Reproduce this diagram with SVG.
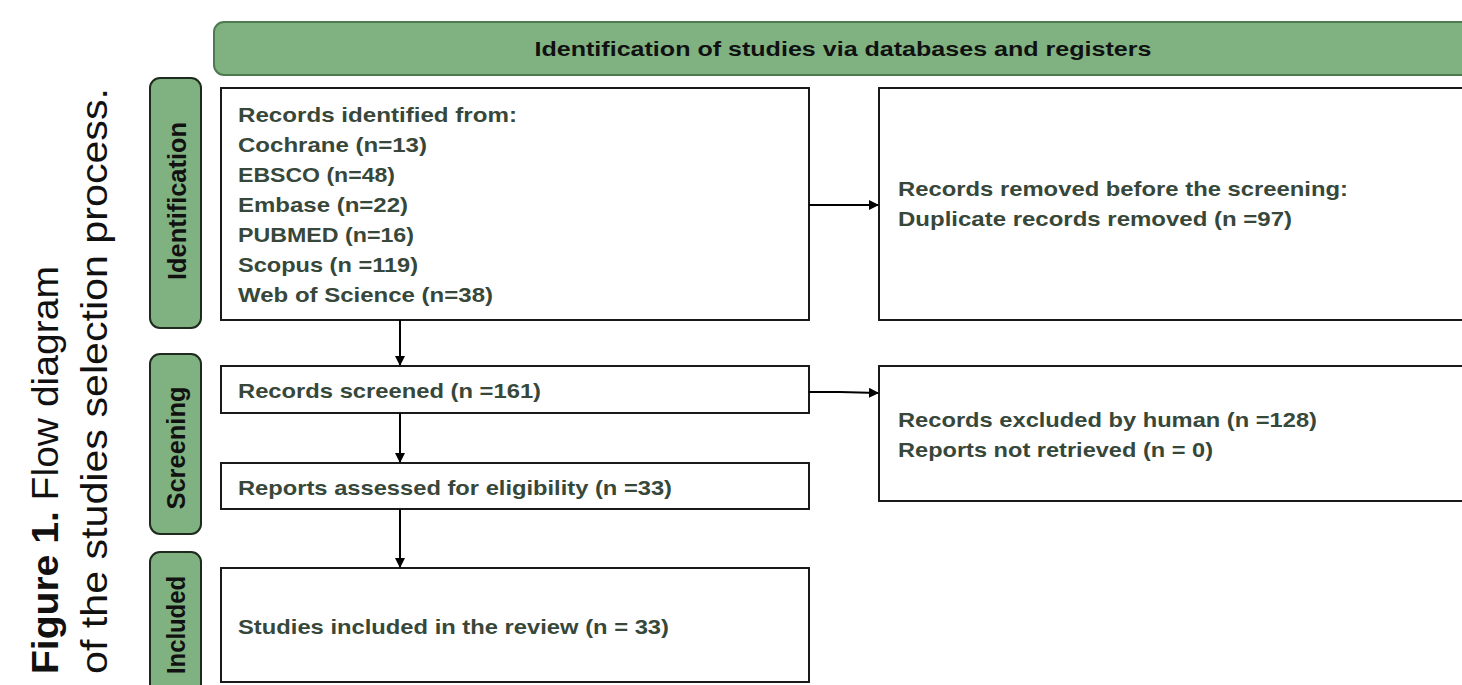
<svg xmlns="http://www.w3.org/2000/svg" width="1462" height="685" viewBox="0 0 1462 685">
<defs>
<marker id="arr" markerWidth="10" markerHeight="10" refX="9" refY="5" orient="auto" markerUnits="userSpaceOnUse">
<path d="M0,0 L10,5 L0,10 Z" fill="#000"/>
</marker>
<style>
.box{fill:#fff;stroke:#1a1a1a;stroke-width:2}
.phase{fill:#80b281;stroke:#1f2a1f;stroke-width:2}
.hdr{fill:#80b281;stroke:#4e7a50;stroke-width:2}
.t{font-family:"Liberation Sans",Arial,sans-serif;font-weight:bold;font-size:21px;fill:#37473a}
.ph{font-family:"Liberation Sans",Arial,sans-serif;font-weight:bold;font-size:25px;fill:#111;text-anchor:middle}
.cap{font-family:"Liberation Sans",Arial,sans-serif;font-size:37px;fill:#111}
.con{stroke:#000;stroke-width:2;fill:none;marker-end:url(#arr)}
</style>
</defs>
<rect width="1462" height="685" fill="#fff"/>
<g id="caption">
<text class="cap" transform="translate(58,674) rotate(-90)" textLength="408" lengthAdjust="spacingAndGlyphs"><tspan font-weight="bold">Figure 1.</tspan> Flow diagram</text>
<text class="cap" transform="translate(107,674) rotate(-90)" textLength="586" lengthAdjust="spacingAndGlyphs">of the studies selection process.</text>
</g>
<g id="header">
<rect class="hdr" x="214" y="22" width="1262" height="53" rx="10"/>
<text x="843" y="56" style="font-family:'Liberation Sans',Arial,sans-serif;font-weight:bold;font-size:20px;fill:#111" text-anchor="middle" textLength="617" lengthAdjust="spacingAndGlyphs">Identification  of studies via databases and registers</text>
</g>
<g id="phase-identification">
<rect class="phase" x="150" y="78" width="51" height="250" rx="10"/>
<text class="ph" transform="translate(186,201) rotate(-90)" textLength="158" lengthAdjust="spacingAndGlyphs">Identification</text>
</g>
<g id="phase-screening">
<rect class="phase" x="150" y="354" width="51" height="180" rx="10"/>
<text class="ph" transform="translate(185,448) rotate(-90)" textLength="123" lengthAdjust="spacingAndGlyphs">Screening</text>
</g>
<g id="phase-included">
<rect class="phase" x="150" y="552" width="51" height="150" rx="10"/>
<text class="ph" transform="translate(185,625) rotate(-90)" textLength="98" lengthAdjust="spacingAndGlyphs">Included</text>
</g>
<g id="records-identified">
<rect class="box" x="221" y="88" width="588" height="232"/>
<text class="t" x="238" y="122" textLength="279" lengthAdjust="spacingAndGlyphs">Records identified from:</text>
<text class="t" x="238" y="152" textLength="189" lengthAdjust="spacingAndGlyphs">Cochrane (n=13)</text>
<text class="t" x="238" y="182" textLength="157" lengthAdjust="spacingAndGlyphs">EBSCO (n=48)</text>
<text class="t" x="238" y="212" textLength="170" lengthAdjust="spacingAndGlyphs">Embase (n=22)</text>
<text class="t" x="238" y="242" textLength="176" lengthAdjust="spacingAndGlyphs">PUBMED (n=16)</text>
<text class="t" x="238" y="272" textLength="180" lengthAdjust="spacingAndGlyphs">Scopus (n =119)</text>
<text class="t" x="238" y="302" textLength="255" lengthAdjust="spacingAndGlyphs">Web of Science (n=38)</text>
</g>
<g id="records-removed">
<rect class="box" x="879" y="88" width="600" height="232"/>
<text class="t" x="898" y="196" textLength="450" lengthAdjust="spacingAndGlyphs">Records removed before the screening:</text>
<text class="t" x="898" y="226" textLength="394" lengthAdjust="spacingAndGlyphs">Duplicate records removed (n =97)</text>
</g>
<g id="records-screened">
<rect class="box" x="221" y="366" width="588" height="47"/>
<text class="t" x="238" y="398" textLength="303" lengthAdjust="spacingAndGlyphs">Records screened (n =161)</text>
</g>
<g id="records-excluded">
<rect class="box" x="879" y="366" width="600" height="135"/>
<text class="t" x="898" y="427" textLength="419" lengthAdjust="spacingAndGlyphs">Records excluded by human (n =128)</text>
<text class="t" x="898" y="457" textLength="315" lengthAdjust="spacingAndGlyphs">Reports not retrieved (n = 0)</text>
</g>
<g id="reports-assessed">
<rect class="box" x="221" y="463" width="588" height="46"/>
<text class="t" x="238" y="495" textLength="434" lengthAdjust="spacingAndGlyphs">Reports assessed for eligibility (n =33)</text>
</g>
<g id="studies-included">
<rect class="box" x="221" y="568" width="588" height="114"/>
<text class="t" x="238" y="634" textLength="431" lengthAdjust="spacingAndGlyphs">Studies included in the review (n = 33)</text>
</g>
<g id="connectors">
<line class="con" x1="809" y1="205" x2="878" y2="205"/>
<line class="con" x1="400" y1="320" x2="400" y2="365"/>
<polyline class="con" points="809,392 840,392 878,393"/>
<line class="con" x1="400" y1="413" x2="400" y2="462"/>
<line class="con" x1="400" y1="509" x2="400" y2="567"/>
</g>
</svg>
